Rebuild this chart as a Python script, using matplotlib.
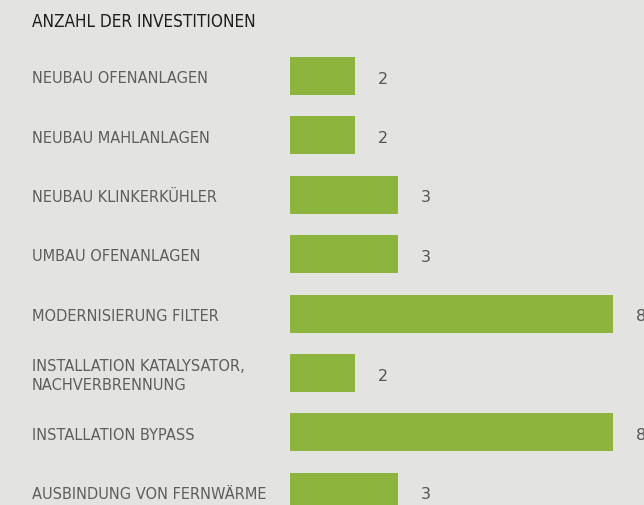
import matplotlib.pyplot as plt
from matplotlib.transforms import blended_transform_factory

# Data
categories = [
    'NEUBAU OFENANLAGEN',
    'NEUBAU MAHLANLAGEN',
    'NEUBAU KLINKERKÜHLER',
    'UMBAU OFENANLAGEN',
    'MODERNISIERUNG FILTER',
    'INSTALLATION KATALYSATOR,\nNACHVERBRENNUNG',
    'INSTALLATION BYPASS',
    'AUSBINDUNG VON FERNWÄRME',
]
counts = [2, 2, 3, 3, 8, 2, 8, 3]
title = 'ANZAHL DER INVESTITIONEN'

bg = '#e3e3e1'
green = '#8db53e'

W, H = 644, 506
fig = plt.figure(figsize=(W / 100, H / 100), dpi=100, facecolor=bg)

# axes placed in pixel terms: left edge at x=290, rows 59.4 px apart
top_px = 47.3
row_px = 59.4
left_px = 290
ax = fig.add_axes([left_px / W, 0, 1 - left_px / W, (H - top_px) / H])
ax.set_facecolor(bg)

ypos = list(range(len(categories)))
ax.barh(ypos, counts, height=0.64, color=green, left=0)

scale = 43.0  # px per unit
ax.set_xlim(0.49, 0.49 + (W - left_px) / scale)
ax.set_ylim(-0.5 + (H - top_px) / row_px, -0.5)
ax.axis('off')

# value labels; the 8s run off the right edge just like the original
for y, v in zip(ypos, counts):
    ax.annotate(str(v), xy=(v, y), xytext=(20, -1.5), textcoords='offset points',
                ha='center', va='center', fontsize=11.5, color='#555555',
                annotation_clip=False)

trans = blended_transform_factory(fig.transFigure, ax.transData)
for y, name in zip(ypos, categories):
    ax.text(32 / W, y + 0.03, name, transform=trans, ha='left', va='center',
            fontsize=10.5, color='#5e5e5e', linespacing=1.3)

fig.text(32 / W, 1 - 22 / H, title, ha='left', va='center', fontsize=12.3,
         color='#1e1e1e', fontstretch='condensed', fontweight='medium')

fig.savefig('out.png', dpi=100, facecolor=bg)
